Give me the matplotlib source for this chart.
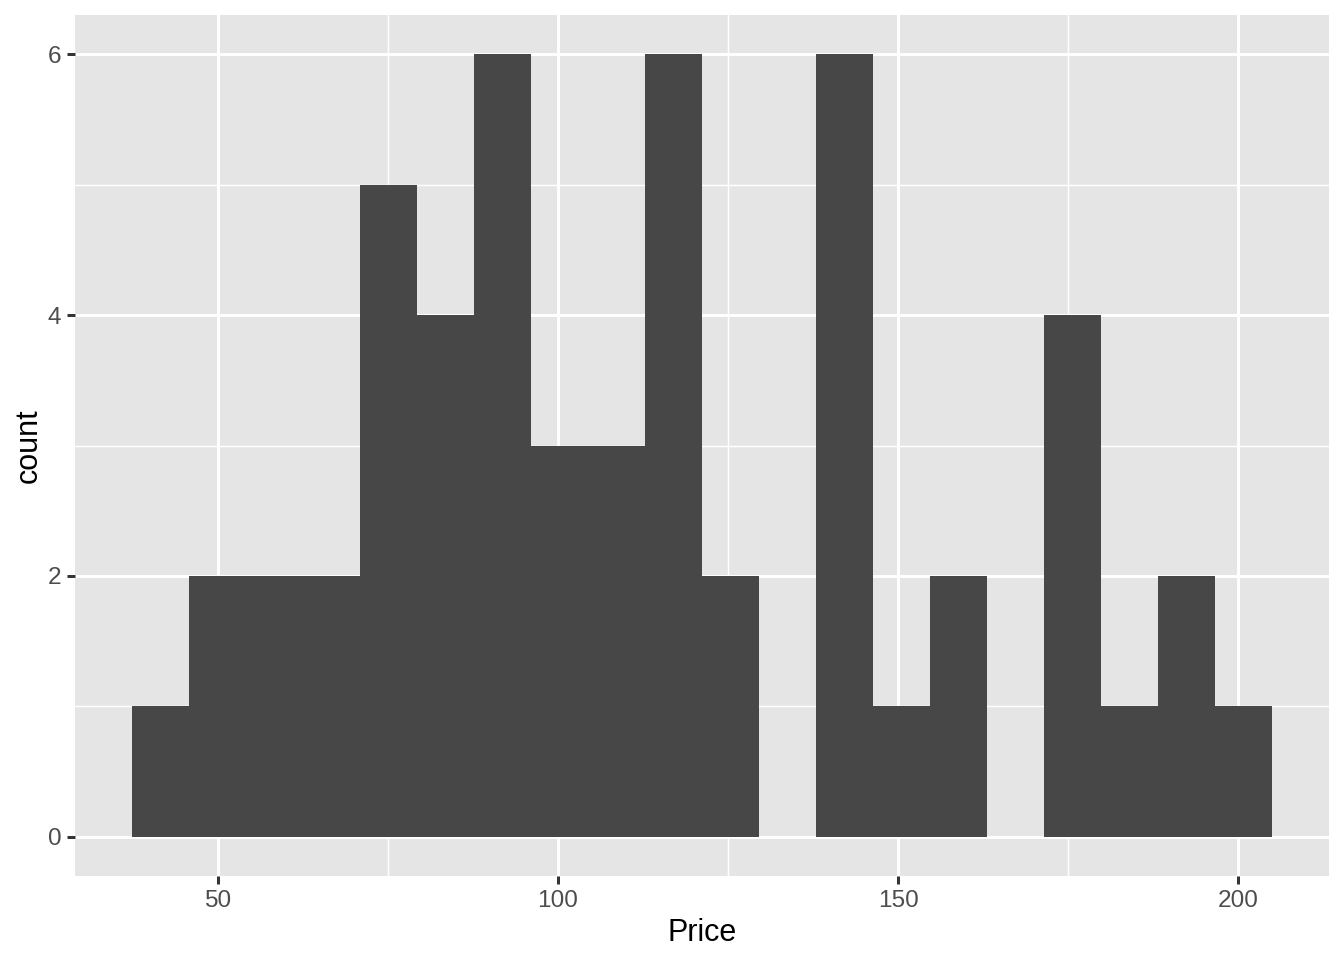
import matplotlib
matplotlib.use("Agg")
import matplotlib.pyplot as plt
import numpy as np

plt.rcParams['font.family'] = ['Liberation Sans', 'DejaVu Sans']

# Histogram bins (20 bins between 37.35 and 205.0) and counts
bin_min = 37.35
bin_max = 205.0
counts = [1, 2, 2, 2, 5, 4, 6, 3, 3, 6, 2, 0, 6, 1, 2, 0, 4, 1, 2, 1]
x_ticks = [50, 100, 150, 200]
y_ticks = [0, 2, 4, 6]

edges = np.linspace(bin_min, bin_max, len(counts) + 1)
centers = (edges[:-1] + edges[1:]) / 2
width = edges[1] - edges[0]

W, H, DPI = 1344, 960, 200
fig = plt.figure(figsize=(W / DPI, H / DPI), dpi=DPI)
ax = fig.add_axes([75 / W, 1 - 876 / H, (1329 - 75) / W, (876 - 15) / H])
ax.set_facecolor("#E5E5E5")

ax.bar(centers, counts, width=width, color="#474747", linewidth=0, zorder=3)

span = bin_max - bin_min
ax.set_xlim(bin_min - 0.05 * span, bin_max + 0.05 * span)
ax.set_ylim(-0.3, 6.3)

ax.set_xticks(x_ticks)
ax.set_yticks(y_ticks)
ax.set_xticks([75, 125, 175], minor=True)
ax.set_yticks([1, 3, 5], minor=True)
ax.grid(which="major", color="white", linewidth=1.07, zorder=1)
ax.grid(which="minor", color="white", linewidth=0.53, zorder=1)
ax.set_axisbelow(True)
for s in ax.spines.values():
    s.set_visible(False)

ax.tick_params(which="major", length=2.75, width=1.07, color="#333333",
               labelcolor="#4D4D4D", labelsize=8.8, pad=2.2)
ax.tick_params(which="minor", length=0)

ax.set_xlabel("Price", fontsize=11, color="black", labelpad=2.3)
ax.set_ylabel("count", fontsize=11, color="black", labelpad=1.3)

fig.savefig("out.png", dpi=DPI)
